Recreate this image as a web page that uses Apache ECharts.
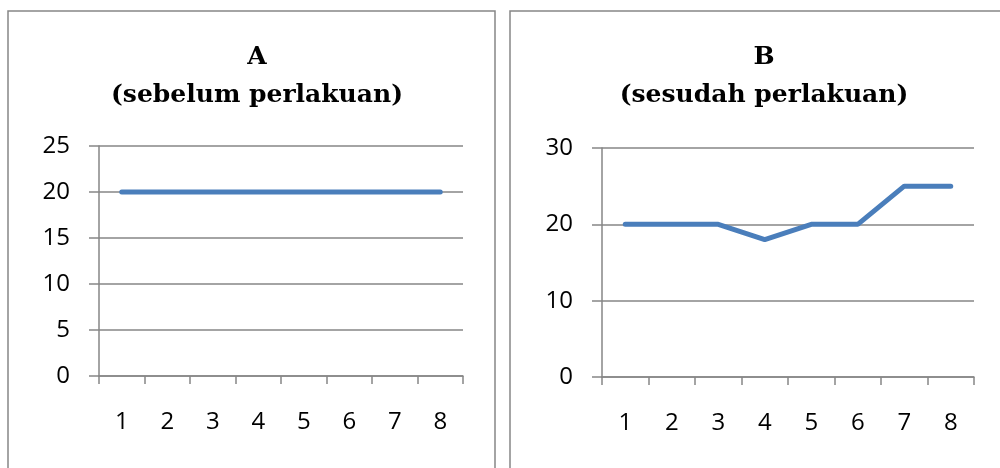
<!DOCTYPE html>
<html><head><meta charset="utf-8">
<script src="https://cdn.jsdelivr.net/npm/echarts@6/dist/echarts.min.js"></script>
<style>html,body{margin:0;padding:0;background:#fff}#c{width:1000px;height:468px}</style>
</head><body><div id="c"></div>
<script>
const categories = ['1','2','3','4','5','6','7','8'];
const seriesA = [20,20,20,20,20,20,20,20];
const seriesB = [20,20,20,18,20,20,25,25];
const titleA = ['A','(sebelum perlakuan)'];
const titleB = ['B','(sesudah perlakuan)'];

const chart = echarts.init(document.getElementById('c'), null, {renderer:'canvas'});
const gray = '#868686';
const lineBlue = '#4a7ebb';
const labelFont = {color:'#000', fontFamily:'Open Sans', fontSize:24};
function xAx(gi){
  return {type:'category', gridIndex:gi, data:categories, boundaryGap:true,
    axisLine:{lineStyle:{color:gray, width:1.5}},
    axisTick:{show:true, length:8, inside:false, lineStyle:{color:gray, width:1.5}, alignWithLabel:false},
    axisLabel:Object.assign({margin:34}, labelFont), splitLine:{show:false}};
}
function yAx(gi,max,interval){
  return {type:'value', gridIndex:gi, min:0, max:max, interval:interval,
    axisLine:{show:true, lineStyle:{color:gray, width:1.5}},
    axisTick:{show:true, length:10, lineStyle:{color:gray, width:1.5}},
    axisLabel:Object.assign({margin:29}, labelFont),
    splitLine:{show:true, lineStyle:{color:gray, width:1.5}}};
}
const titleStyle = {fontFamily:'DejaVu Serif', fontWeight:'bold', color:'#000'};
chart.setOption({
  animation:false,
  backgroundColor:'#fff',
  title:[
    {text:titleA[0], left:252, top:40, textAlign:'center', textStyle:Object.assign({fontSize:25}, titleStyle)},
    {text:titleA[1], left:252, top:78, textAlign:'center', textStyle:Object.assign({fontSize:25}, titleStyle)},
    {text:titleB[0], left:759, top:40, textAlign:'center', textStyle:Object.assign({fontSize:25}, titleStyle)},
    {text:titleB[1], left:759, top:78, textAlign:'center', textStyle:Object.assign({fontSize:25}, titleStyle)}
  ],
  graphic:[
    {type:'rect', shape:{x:8, y:11, width:487, height:470}, style:{fill:null, stroke:gray, lineWidth:1.5}, silent:true},
    {type:'rect', shape:{x:510, y:11, width:500, height:470}, style:{fill:null, stroke:gray, lineWidth:1.5}, silent:true}
  ],
  grid:[
    {left:99, top:146, width:364, height:230},
    {left:602, top:148, width:372, height:229}
  ],
  xAxis:[xAx(0), xAx(1)],
  yAxis:[yAx(0,25,5), yAx(1,30,10)],
  series:[
    {type:'line', xAxisIndex:0, yAxisIndex:0, data:seriesA, symbol:'none', lineStyle:{color:lineBlue, width:5, cap:'round'}},
    {type:'line', xAxisIndex:1, yAxisIndex:1, data:seriesB, symbol:'none', lineStyle:{color:lineBlue, width:5, cap:'round'}}
  ]
});
</script></body></html>
